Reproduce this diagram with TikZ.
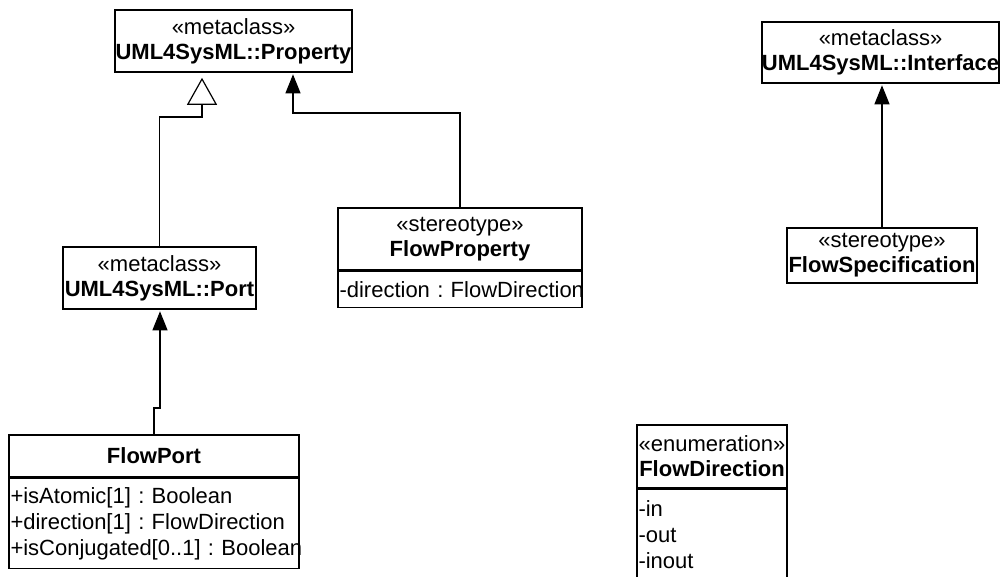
\documentclass[tikz,border=0pt]{standalone}
\usepackage{fontspec}
\setmainfont{Liberation Sans}
\usepackage{tikz}
\usetikzlibrary{arrows.meta,positioning,calc}
\definecolor{Ink}{HTML}{000000}
\tikzset{
  classHead/.style={draw=Ink,line width=1.6pt,fill=white,align=center,inner xsep=0pt,inner ysep=1pt,
    font=\fontsize{22pt}{25pt}\selectfont,text=Ink},
  classBody/.style={draw=Ink,line width=1.6pt,fill=white,align=left,inner xsep=1.5pt,inner ysep=1pt,
    font=\fontsize{22pt}{26pt}\selectfont,text=Ink,
    execute at begin node={\frenchspacing\hyphenpenalty=10000\exhyphenpenalty=10000\hbadness=10000\hfuzz=20pt}},
  assocLine/.style={draw=Ink,line width=1.2pt},
  extArrow/.style={assocLine,-{Triangle[length=19pt,width=15pt]},shorten >=1.5pt},
  genArrow/.style={assocLine,-{Triangle[open,length=27pt,width=30pt,fill=white,line width=1.2pt]},shorten >=5pt}
}
\begin{document}
\begin{tikzpicture}[x=1pt,y=-1pt]
\useasboundingbox (0,0) rectangle (1000,576);
% classes
\node[classHead,minimum width=237pt,minimum height=62pt] (propHead) at (233.5,41) {«metaclass»\\\textbf{UML4SysML::Property}};
\node[classHead,minimum width=193pt,minimum height=62pt] (portHead) at (159.5,278) {«metaclass»\\\textbf{UML4SysML::Port}};
\node[classHead,minimum width=290pt,minimum height=42pt] (flowPortHead) at (154,456) {\textbf{FlowPort}};
\node[classBody,text width=287pt,minimum height=90pt,below=0pt of flowPortHead] (flowPortBody) {+isAtomic[1]~:~Boolean\\+direction[1]~:~FlowDirection\\+isConjugated[0..1]~:~Boolean};
\node[classHead,minimum width=244pt,minimum height=62pt] (flowPropHead) at (460,239) {«stereotype»\\\textbf{FlowProperty}};
\node[classBody,text width=241pt,minimum height=36pt,below=0pt of flowPropHead] (flowPropBody) {\mbox{-direction~:~FlowDirection}};
\node[classHead,minimum width=235pt,minimum height=61pt] (ifaceHead) at (880.5,52.5) {«metaclass»\\\textbf{UML4SysML::Interface}};
\node[classHead,minimum width=190pt,minimum height=55pt] (flowSpecHead) at (882,255.5) {«stereotype»\\\textbf{FlowSpecification}};
\node[classHead,minimum width=150pt,minimum height=63pt] (flowDirHead) at (712,456.5) {«enumeration»\\\textbf{FlowDirection}};
\node[classBody,text width=147pt,minimum height=90pt,below=0pt of flowDirHead] (flowDirBody) {-in\\-out\\-inout};
% bends
\coordinate (genKnee) at (202,117);
\coordinate (propKnee) at (293,113);
\coordinate (portJog) at (160,408);
% connectors
\draw[genArrow] (portHead.north) |- (genKnee) -- (genKnee |- propHead.south);
\draw[extArrow] (flowPropHead.north) |- (propKnee) -- (propKnee |- propHead.south);
\draw[extArrow] (flowPortHead.north) |- (portJog) -- (portJog |- portHead.south);
\draw[extArrow] (flowSpecHead.north) -- (flowSpecHead.north |- ifaceHead.south);
\end{tikzpicture}
\end{document}
